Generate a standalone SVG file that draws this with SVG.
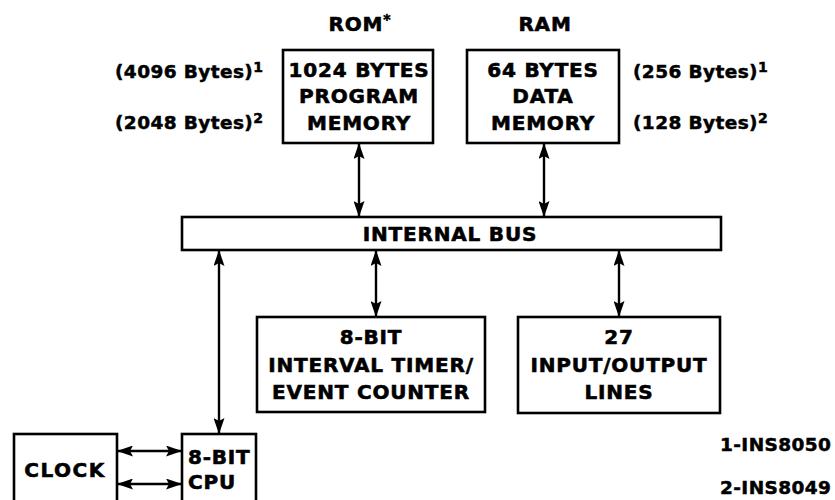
<svg xmlns="http://www.w3.org/2000/svg" width="835" height="500" viewBox="0 0 835 500">
  <style>
    .box { fill: #fff; stroke: #000; stroke-width: 2.6; }
    .lbl { font-family: "DejaVu Sans", "Liberation Sans", sans-serif; font-weight: bold; font-size: 20px; fill: #000; stroke: #000; stroke-width: 0.6px; text-anchor: middle; letter-spacing: 0.8px; }
    .note { font-family: "DejaVu Sans", "Liberation Sans", sans-serif; font-weight: bold; font-size: 18.5px; fill: #000; stroke: #000; stroke-width: 0.5px; letter-spacing: 0.4px; }
    .sup { font-size: 14px; }
    .link { stroke: #000; stroke-width: 2.4; fill: none; marker-start: url(#head); marker-end: url(#head); }
  </style>
  <defs>
    <marker id="head" viewBox="0 0 16 11" refX="15" refY="5.5" markerWidth="16" markerHeight="11" markerUnits="userSpaceOnUse" orient="auto-start-reverse">
      <path d="M0,0 L16,5.5 L0,11 L3,5.5 z" fill="#000"/>
    </marker>
  </defs>

  <rect width="835" height="500" fill="#fff"/>

  <!-- memory headings and size notes -->
  <text class="lbl" x="360" y="31">ROM<tspan class="sup" dy="-7">*</tspan></text>
  <text class="lbl" x="545" y="31">RAM</text>
  <text class="note" x="115" y="78">(4096 Bytes)<tspan class="sup" dy="-6">1</tspan></text>
  <text class="note" x="115" y="129">(2048 Bytes)<tspan class="sup" dy="-6">2</tspan></text>
  <text class="note" x="633" y="78">(256 Bytes)<tspan class="sup" dy="-6">1</tspan></text>
  <text class="note" x="633" y="129">(128 Bytes)<tspan class="sup" dy="-6">2</tspan></text>
  <text class="note" x="720" y="451">1-INS8050</text>
  <text class="note" x="720" y="494">2-INS8049</text>

  <!-- bus connections -->
  <g id="connectors">
    <line class="link" x1="359" y1="144" x2="359" y2="216"/>
    <line class="link" x1="544" y1="144" x2="544" y2="216"/>
    <line class="link" x1="376" y1="251" x2="376" y2="316"/>
    <line class="link" x1="619" y1="251" x2="619" y2="316"/>
    <line class="link" x1="219" y1="251" x2="219" y2="433"/>
    <line class="link" x1="118" y1="451" x2="181" y2="451"/>
    <line class="link" x1="118" y1="484" x2="181" y2="484"/>
  </g>

  <g id="rom">
    <rect class="box" x="283" y="50" width="150" height="93"/>
    <text class="lbl" x="359" y="77">1024 BYTES</text>
    <text class="lbl" x="359" y="103">PROGRAM</text>
    <text class="lbl" x="359" y="130">MEMORY</text>
  </g>

  <g id="ram">
    <rect class="box" x="467" y="50" width="152" height="93"/>
    <text class="lbl" x="543" y="77">64 BYTES</text>
    <text class="lbl" x="543" y="103">DATA</text>
    <text class="lbl" x="543" y="130">MEMORY</text>
  </g>

  <g id="bus">
    <rect class="box" x="182" y="217" width="539" height="33"/>
    <text class="lbl" x="450" y="241">INTERNAL BUS</text>
  </g>

  <g id="timer">
    <rect class="box" x="257" y="317" width="228" height="95"/>
    <text class="lbl" x="371" y="344">8-BIT</text>
    <text class="lbl" x="371" y="372">INTERVAL TIMER/</text>
    <text class="lbl" x="371" y="399">EVENT COUNTER</text>
  </g>

  <g id="io">
    <rect class="box" x="518" y="317" width="202" height="96"/>
    <text class="lbl" x="619" y="344">27</text>
    <text class="lbl" x="619" y="372">INPUT/OUTPUT</text>
    <text class="lbl" x="619" y="399">LINES</text>
  </g>

  <g id="clock">
    <rect class="box" x="14" y="434" width="103" height="80"/>
    <text class="lbl" x="65" y="477" style="letter-spacing:1.5px">CLOCK</text>
  </g>

  <g id="cpu">
    <rect class="box" x="182" y="434" width="74" height="80"/>
    <text class="lbl" x="188" y="464" style="text-anchor:start">8-BIT</text>
    <text class="lbl" x="188" y="489" style="text-anchor:start">CPU</text>
  </g>
</svg>
